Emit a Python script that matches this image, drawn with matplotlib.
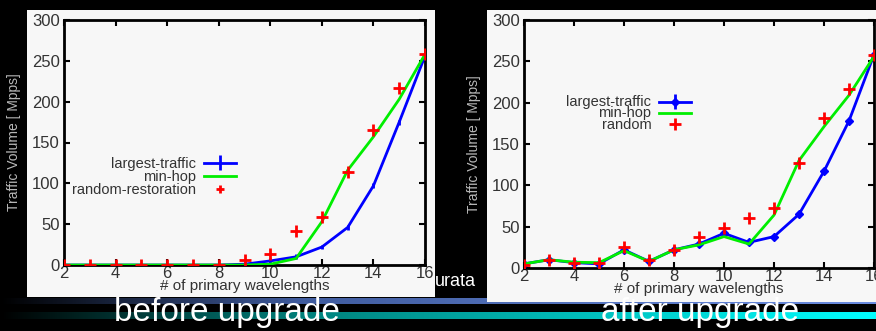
import matplotlib
matplotlib.use('Agg')
import matplotlib.pyplot as plt
import numpy as np

# DATA
X = [2, 3, 4, 5, 6, 7, 8, 9, 10, 11, 12, 13, 14, 15, 16]

BEFORE_LARGEST = [0, 0, 0, 0, 0, 0, 0, 1, 5, 10, 22, 46, 97, 175, 256]
BEFORE_MINHOP = [0, 0, 0, 0, 0, 0, 0, 0, 1, 8, 53, 116, 157, 203, 258]
BEFORE_RANDOM = [0, 0, 0, 0, 0, 0, 0, 6, 13, 42, 59, 114, 165, 217, 258]

AFTER_LARGEST = [5, 10, 6.5, 5, 22, 8, 22, 29, 42, 31, 38, 65, 117, 178, 258]
AFTER_MINHOP = [5, 10, 7, 6.5, 21, 8, 22, 28, 38, 29, 64, 130, 171, 209, 256]
AFTER_RANDOM = [4, 10, 6.5, 6, 26, 10, 22, 37, 48, 61, 73, 127, 182, 216, 258]

Y_TICKS = [0, 50, 100, 150, 200, 250, 300]
X_TICKS = [2, 4, 6, 8, 10, 12, 14, 16]

W, H = 876, 331
FONT = ['Liberation Sans Narrow', 'Liberation Sans', 'DejaVu Sans']
TXT = '#333333'


def px_box(x0, y0, x1, y1):
    return [x0 / W, 1 - y1 / H, (x1 - x0) / W, (y1 - y0) / H]


def gradient_stripe(fig, y0, y1, c_end, c_mid, x_mid):
    ax = fig.add_axes(px_box(0, y0, W, y1))
    n = 400
    xs = np.linspace(0, 1, n)
    t = np.clip(xs * W / x_mid, 0, 1)
    u = np.clip((xs * W - x_mid) / (W - x_mid), 0, 1)
    c_mid = np.array(c_mid)
    c_end = np.array(c_end)
    cols = np.where(xs[:, None] * W < x_mid, t[:, None] * c_mid,
                    c_mid + u[:, None] * (c_end - c_mid))
    ax.imshow(cols[None, :, :], aspect='auto', extent=[0, 1, 0, 1])
    ax.set_axis_off()
    return ax


def draw_panel(fig, panel, axbox, largest, minhop, random, rlabel, diamond,
               legend_xy, spacing, red_ms):
    bg = fig.add_axes(px_box(*panel))
    bg.set_facecolor('#f7f7f7')
    bg.set_xticks([])
    bg.set_yticks([])
    for s in bg.spines.values():
        s.set_visible(False)

    ax = fig.add_axes(px_box(*axbox))
    ax.set_facecolor('#f7f7f7')
    eb = ax.errorbar(X, largest, yerr=3, color='#0000ff', lw=2, elinewidth=2, capsize=0,
                     marker='D' if diamond else None, ms=4, zorder=3)
    mh, = ax.plot(X, minhop, color='#00ee00', lw=2, zorder=4)
    rd, = ax.plot(X, random, ls='none', marker='+', color='#ff0000', ms=9, mew=2, zorder=5)
    ax.set_xlim(2, 16)
    ax.set_ylim(0, 300)
    ax.set_xticks(X_TICKS)
    ax.set_yticks(Y_TICKS)
    ax.tick_params(direction='in', length=4, width=1.5, top=True, right=True,
                   labelcolor=TXT, labelsize=12, pad=3)
    ax.tick_params(axis='x', pad=1)
    for lab in ax.get_xticklabels() + ax.get_yticklabels():
        lab.set_family(FONT)
    for s in ax.spines.values():
        s.set_linewidth(2)
    ax.set_xlabel('# of primary wavelengths', color=TXT, fontsize=11, family=FONT, labelpad=-2)
    # y label sits on the black slide background, so it is light grey
    ax.set_ylabel('Traffic Volume [ Mpps]', color='#b8b8b8', fontsize=10, family=FONT, labelpad=8)

    # red legend sample drawn smaller than the data markers
    rd_leg, = ax.plot([], [], ls='none', marker='+', color='#ff0000', ms=red_ms, mew=2)
    leg = ax.legend([eb, mh, rd_leg], ['largest-traffic', 'min-hop', rlabel],
                    loc='center right', bbox_to_anchor=legend_xy, frameon=False,
                    markerfirst=False, handlelength=2.2, labelspacing=spacing,
                    handleheight=0.6, borderpad=0, handletextpad=0.5,
                    prop={'family': FONT, 'size': 10.5})
    for t in leg.get_texts():
        t.set_color(TXT)
    return ax


fig = plt.figure(figsize=(W / 100, H / 100), dpi=100, facecolor='black')

gradient_stripe(fig, 298, 304, [0.42, 0.55, 0.88], [0.25, 0.36, 0.62], 300)
gradient_stripe(fig, 312, 319, [0.0, 1.0, 1.0], [0.0, 0.5, 0.48], 300)

draw_panel(fig, (27, 10, 435, 297), (64, 20, 425, 265),
           BEFORE_LARGEST, BEFORE_MINHOP, BEFORE_RANDOM, 'random-restoration', False,
           (0.496, 0.36), -0.05, 6)
draw_panel(fig, (487, 10, W, 302), (524, 20, 874, 268),
           AFTER_LARGEST, AFTER_MINHOP, AFTER_RANDOM, 'random', True,
           (0.497, 0.623), -0.2, 9)

fig.text(435 / W, 1 - 282 / H, 'urata', color='white', fontsize=13, family=FONT,
         va='center', ha='left')
fig.text(227 / W, 1 - 313 / H, 'before upgrade', color='white', fontsize=24,
         family=FONT, va='center', ha='center')
fig.text(700 / W, 1 - 313 / H, 'after upgrade', color='white', fontsize=24,
         family=FONT, va='center', ha='center')

fig.savefig('out.png', dpi=100, facecolor='black')
